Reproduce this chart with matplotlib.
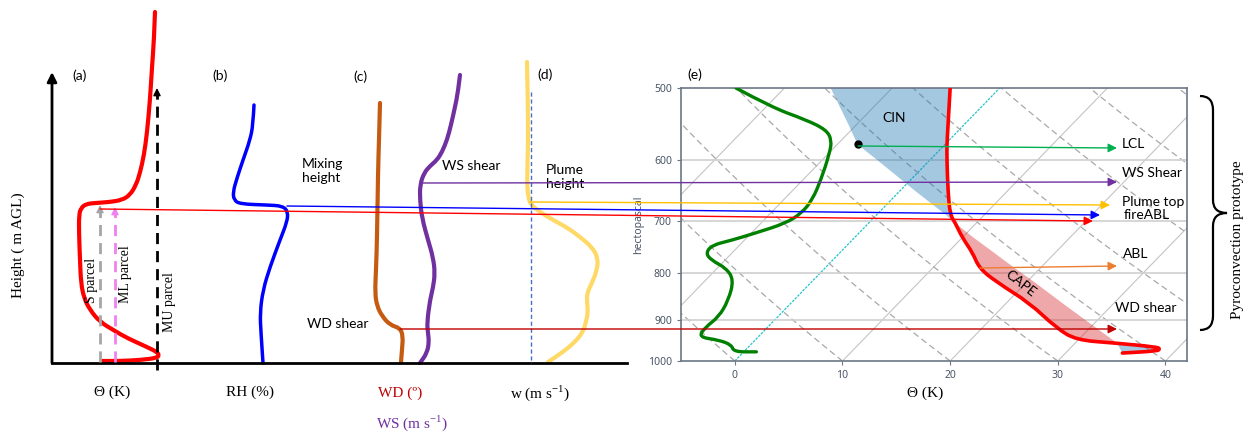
import numpy as np
import matplotlib.pyplot as plt
from matplotlib.path import Path
from matplotlib.patches import PathPatch

# ---- schematic profiles (a)-(d), in figure pixels (x, y from top) ----
theta_x = [155, 154, 152, 150, 147, 144, 140, 136, 130, 122, 110, 95, 86, 81, 79, 79, 80, 81, 84, 90, 100, 115, 127, 147, 157, 159, 157, 140, 120, 102]
theta_y = [12, 40, 67, 100, 133, 155, 173, 185, 195, 200, 202, 203, 204, 208, 215, 233, 260, 283, 298, 310, 322, 331, 338, 347, 352, 355, 358, 360, 361, 361]
rh_x = [254, 253, 250, 243, 237, 233, 234, 240, 267, 283, 288, 287, 280, 270, 263, 260, 261, 263]
rh_y = [105, 125, 140, 160, 178, 192, 200, 204, 205, 206, 212, 222, 240, 267, 290, 313, 333, 363]
wd_x = [380, 379, 378, 377, 376, 375, 377, 382, 390, 400, 403, 402, 401]
wd_y = [103, 140, 173, 240, 270, 293, 306, 316, 325, 328, 336, 350, 362]
ws_x = [460, 458, 455, 451, 447, 442, 437, 430, 424, 420, 420, 422, 428, 433, 435, 433, 430, 427, 428, 429, 427, 420]
ws_y = [75, 92, 107, 125, 140, 152, 160, 166, 173, 185, 200, 218, 240, 257, 273, 288, 300, 323, 333, 342, 353, 363]
w_x = [527, 528, 528, 527, 528, 531, 540, 553, 568, 580, 592, 598, 597, 592, 587, 587, 588, 586, 583, 575, 563, 548]
w_y = [62, 107, 150, 180, 197, 205, 212, 220, 228, 237, 247, 258, 270, 283, 293, 302, 312, 322, 332, 342, 352, 362]

# ---- skew-T panel (e): skewed x value, pressure (hPa) ----
temp_p = [500, 550, 577, 600, 650, 690, 705, 730, 760, 790, 818, 863, 920, 948, 955, 965, 970, 975, 980]
temp_x = [20.0, 19.8, 19.7, 19.7, 19.8, 20.0, 20.5, 21.1, 22.1, 22.7, 24.3, 27.4, 29.9, 31.7, 35.1, 39.2, 39.5, 39.2, 36.0]
parcel_x = [8.9, 10.6, 11.4, 13.2, 16.8, 19.6, 20.5, 22.1, 24.1, 26.0, 27.8, 30.4, 33.6, 35.1, 35.5, 35.7, 35.8, 35.9, 36.0]
dew_p = [500, 525, 542, 556, 571, 590, 631, 664, 687, 705, 722, 736, 745, 760, 774, 790, 814, 857, 894, 917, 941, 948, 960, 977, 977]
dew_x = [0.1, 3.4, 6.6, 8.5, 9.0, 8.8, 8.0, 7.2, 6.2, 4.7, 2.0, -0.3, -2.1, -2.7, -2.2, -0.8, -0.1, -0.6, -1.5, -2.7, -3.4, -1.5, -0.3, -0.1, 2.0]
lcl_x, lcl_p = 11.4, 577
isotherms = list(range(-80, 50, 10))
adiabats = list(range(-30, 200, 10))

# ---- horizontal level arrows (pixels): x0, y0, x1, y1, colour ----
arrows = [
    (100, 209, 1093, 221, '#ff0000'),
    (287, 206, 1100, 215, '#0000ff'),
    (530, 202, 1110, 205, '#ffc000'),
    (423, 183, 1117, 182, '#7030a0'),
    (858, 146, 1117, 148, '#00b050'),
    (980, 268, 1117, 266, '#ed7d31'),
    (400, 329, 1117, 329, '#c00000'),
]
arrow_labels = ['LCL', 'WS Shear', 'Plume top', 'fireABL', 'ABL', 'WD shear']
arrow_label_xy = [(1122, 144), (1122, 173), (1122, 202), (1124, 215), (1123, 254), (1115, 308)]

sans = 'Lato'
serif = 'Liberation Serif'


def smooth(ax, xs, ys, **kw):
    # quadratic bezier through midpoints, points act as control points
    pts = list(zip(xs, ys))
    verts = [pts[0]]
    codes = [Path.MOVETO]
    for i in range(1, len(pts) - 1):
        mx = (pts[i][0] + pts[i + 1][0]) / 2
        my = (pts[i][1] + pts[i + 1][1]) / 2
        verts += [pts[i], (mx, my)]
        codes += [Path.CURVE3, Path.CURVE3]
    verts.append(pts[-1])
    codes.append(Path.LINETO)
    ax.add_patch(PathPatch(Path(verts, codes), fill=False, capstyle='round', joinstyle='round', **kw))


fig = plt.figure(figsize=(12.57, 4.44), dpi=100)

# ---------------- panel (e) ----------------
ax = fig.add_axes([681 / 1257, 83 / 444, 506 / 1257, 273 / 444])
k = 35.5
pg = np.geomspace(1000, 400, 80)
for t0 in isotherms:
    xs = t0 + k * np.log(1000 / pg)
    if t0 == 0:
        ax.plot(xs, pg, color='#22c4cc', lw=0.9, ls=(0, (2, 1)), zorder=1)
    else:
        ax.plot(xs, pg, color='#c4c4c4', lw=0.8, zorder=1)
for th in adiabats:
    tt = (th + 273.15) * (pg / 1000) ** 0.2857 - 273.15
    ax.plot(tt + k * np.log(1000 / pg), pg, color='#a8a8a8', lw=0.9, ls=(0, (5, 3)), zorder=1)
for pp in [600, 700, 800, 900]:
    ax.axhline(pp, color='#cfcfcf', lw=1.2, zorder=1)

tx = np.array(temp_x)
px = np.array(parcel_x)
ax.fill_betweenx(temp_p, tx, px, where=px >= tx, interpolate=True, color='tab:red', alpha=0.4, lw=0, zorder=2)
ax.fill_betweenx(temp_p, tx, px, where=px <= tx, interpolate=True, color='tab:blue', alpha=0.4, lw=0, zorder=2)
smooth(ax, temp_x, temp_p, color='red', lw=2.6, zorder=4)
smooth(ax, dew_x, dew_p, color='green', lw=2.4, zorder=4)
ax.plot(lcl_x, lcl_p, 'o', color='black', ms=5, zorder=5)
ax.text(14.8, 540, 'CIN', fontsize=10, family=sans, ha='center', va='center')
ax.text(26.5, 822, 'CAPE', fontsize=10, family=sans, ha='center', va='center', rotation=-38)

ax.set_yscale('log')
ax.set_ylim(1000, 500)
ax.set_xlim(-5, 42)
ax.set_yticks([500, 600, 700, 800, 900, 1000])
ax.set_yticklabels(['500', '600', '700', '800', '900', '1000'])
ax.minorticks_off()
ax.set_xticks([0, 10, 20, 30, 40])
ax.set_ylabel('hectopascal', fontsize=7.5, color='#4a5568', family='Noto Sans', labelpad=3)
ax.tick_params(colors='#6b7785', labelcolor='#4a5568', labelsize=7.5, length=3)
for lab in ax.get_xticklabels() + ax.get_yticklabels():
    lab.set_family('Noto Sans')
for s in ax.spines.values():
    s.set_color('#6b7785')
    s.set_linewidth(1.2)

# ---------------- overlay for schematics ----------------
ov = fig.add_axes([0, 0, 1, 1], zorder=5)
ov.set_xlim(0, 1257)
ov.set_ylim(444, 0)
ov.axis('off')
ov.patch.set_alpha(0)

ov.plot([52, 627], [363, 363], color='black', lw=2)
ov.annotate('', xy=(52, 72), xytext=(52, 363),
            arrowprops=dict(arrowstyle='-|>', color='black', lw=2, mutation_scale=14, shrinkA=0, shrinkB=0))
ov.text(18, 245, 'Height ( m AGL)', rotation=90, fontsize=11, family=serif, ha='center', va='center')

smooth(ov, theta_x, theta_y, color='red', lw=3)
smooth(ov, rh_x, rh_y, color='blue', lw=2.5)
smooth(ov, wd_x, wd_y, color='#c55a11', lw=3)
smooth(ov, ws_x, ws_y, color='#7030a0', lw=3)
smooth(ov, w_x, w_y, color='#ffd966', lw=3)
ov.plot([531, 531], [92, 363], color='#4472c4', lw=1, ls=(0, (3, 2)))

# parcel arrows in (a)
for x, y0, y1, c in [(100, 362, 205, '#a6a6a6'), (115, 362, 207, '#ee82ee'), (157, 370, 88, 'black')]:
    ov.plot([x, x], [y0, y1 + 6], color=c, lw=2, ls=(0, (4, 2.5)))
    ov.annotate('', xy=(x, y1), xytext=(x, y1 + 9),
                arrowprops=dict(arrowstyle='-|>', color=c, lw=1, mutation_scale=11, shrinkA=0, shrinkB=0))
ov.text(91, 280, 'S parcel', rotation=90, fontsize=10, family=serif, ha='center', va='center')
ov.text(126, 274, 'ML parcel', rotation=90, fontsize=10, family=serif, ha='center', va='center')
ov.text(169, 302, 'MU parcel', rotation=90, fontsize=10, family=serif, ha='center', va='center')

for lab, xy in zip(['(a)', '(b)', '(c)', '(d)', '(e)'],
                   [(80, 76), (220, 76), (360, 77), (545, 75), (695, 75)]):
    ov.text(xy[0], xy[1], lab, fontsize=10, family=sans, ha='center', va='center')

ov.text(302, 171, 'Mixing\nheight', fontsize=10, family=sans, ha='left', va='center', linespacing=1.2)
ov.text(442, 166, 'WS shear', fontsize=10, family=sans, ha='left', va='center')
ov.text(307, 324, 'WD shear', fontsize=10, family=sans, ha='left', va='center')
ov.text(546, 177, 'Plume\nheight', fontsize=10, family=sans, ha='left', va='center', linespacing=1.2)

ov.text(112, 392, 'Θ (K)', fontsize=11, family=serif, ha='center', va='center')
ov.text(250, 392, 'RH (%)', fontsize=11, family=serif, ha='center', va='center')
ov.text(400, 393, 'WD (º)', fontsize=11, family=serif, ha='center', va='center', color='#c00000')
ov.text(412, 423, 'WS (m s$^{\\mathregular{-1}}$)', fontsize=11, family=serif, ha='center', va='center',
        color='#7030a0')
ov.text(540, 393, 'w (m s$^{\\mathregular{-1}}$)', fontsize=11, family=serif, ha='center', va='center')
ov.text(925, 393, 'Θ (K)', fontsize=11, family=serif, ha='center', va='center')

for x0, y0, x1, y1, c in arrows:
    ov.annotate('', xy=(x1, y1), xytext=(x0, y0),
                arrowprops=dict(arrowstyle='-|>', color=c, lw=1, mutation_scale=13, shrinkA=0, shrinkB=0))
for lab, xy in zip(arrow_labels, arrow_label_xy):
    ov.text(xy[0], xy[1], lab, fontsize=10, family=sans, ha='left', va='center')

# curly brace
verts = [(1200, 96), (1213, 96), (1213, 110), (1213, 200), (1213, 213), (1227, 213),
         (1213, 213), (1213, 226), (1213, 316), (1213, 330), (1200, 330)]
codes = [Path.MOVETO, Path.CURVE3, Path.CURVE3, Path.LINETO, Path.CURVE3, Path.CURVE3,
         Path.CURVE3, Path.CURVE3, Path.LINETO, Path.CURVE3, Path.CURVE3]
ov.add_patch(PathPatch(Path(verts, codes), fill=False, lw=1.6, color='black'))
ov.text(1237, 240, 'Pyroconvection prototype', rotation=90, fontsize=11, family=serif, ha='center', va='center')

fig.savefig('out.png', dpi=100)
